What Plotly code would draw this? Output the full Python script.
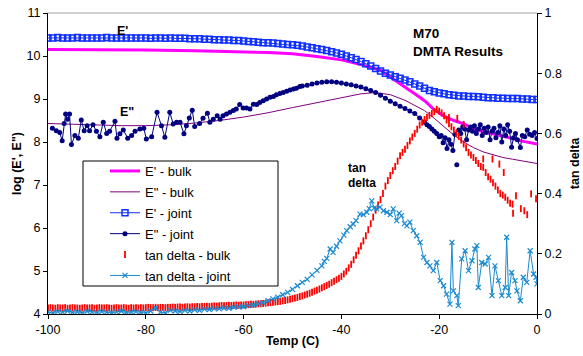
import plotly.graph_objects as go

# ---------------- data ----------------
# E' - bulk (log modulus)
ebulk_T = [-100, -90, -80, -70, -60, -55, -50, -45, -40, -36, -32, -30, -28, -26, -25, -23, -21, -19, -17,
           -15, -13, -11, -9, -7, -5, -3, 0]
ebulk_v = [10.15, 10.15, 10.14, 10.12, 10.10, 10.08, 10.05, 9.99, 9.91, 9.80, 9.67, 9.52, 9.35, 9.20, 9.12,
           8.96, 8.75, 8.60, 8.50, 8.42, 8.31, 8.24, 8.19, 8.13, 8.07, 8.02, 7.95]

# E" - bulk
eddbulk_T = [-100, -95, -90, -85, -80, -75, -70, -65, -60, -55, -50, -45, -40, -36, -33, -30, -27, -25, -23,
             -21, -19, -17, -15, -13, -11, -9, -7, -5, -3, 0]
eddbulk_v = [8.43, 8.41, 8.39, 8.38, 8.38, 8.40, 8.44, 8.50, 8.58, 8.68, 8.80, 8.92, 9.04, 9.12, 9.15, 9.10,
             8.97, 8.84, 8.73, 8.55, 8.36, 8.16, 8.00, 7.87, 7.77, 7.70, 7.64, 7.60, 7.56, 7.50]

# E' - joint (1 degree steps from -100 to 0)
ejoint_T = list(range(-100, 1))
ejoint_v = [10.42, 10.42, 10.43, 10.42, 10.42, 10.42, 10.43, 10.42, 10.42, 10.42,
            10.42, 10.42, 10.43, 10.42, 10.42, 10.42, 10.42, 10.42, 10.42, 10.42,
            10.42, 10.41, 10.42, 10.42, 10.41, 10.42, 10.41, 10.41, 10.41, 10.40,
            10.40, 10.40, 10.39, 10.39, 10.38, 10.38, 10.37, 10.37, 10.36, 10.36,
            10.35, 10.34, 10.33, 10.32, 10.31, 10.31, 10.30, 10.29, 10.28, 10.27,
            10.26, 10.25, 10.23, 10.21, 10.19, 10.17, 10.15, 10.13, 10.10, 10.07,
            10.04, 10.00, 9.96, 9.92, 9.87, 9.82, 9.77, 9.71, 9.65, 9.60,
            9.56, 9.52, 9.48, 9.44, 9.40, 9.35, 9.30, 9.25, 9.20, 9.17,
            9.14, 9.12, 9.10, 9.09, 9.07, 9.07, 9.06, 9.06, 9.05, 9.04,
            9.03, 9.03, 9.02, 9.02, 9.01, 9.01, 9.01, 9.00, 9.00, 8.99,
            8.99]

# E" - joint
eddjoint_T = [-99.1, -98.3, -97.6, -97.1, -96.7, -96.4, -96.0, -95.6, -95.2, -94.5,
              -93.8, -93.2, -92.6, -92.0, -91.5, -90.8, -90.1, -89.4, -88.7, -88.0,
              -87.4, -86.3, -85.9, -85.3, -84.6, -83.7, -82.9, -82.2, -81.2, -80.4,
              -79.9, -78.8, -77.7, -76.8, -76.1, -75.1, -74.4, -73.7, -73.0, -72.2,
              -71.7, -71.1, -70.5, -70.0, -69.0, -68.3, -67.4, -66.9, -66.2, -65.4,
              -64.8, -64.2, -63.5, -62.8, -62.1, -61.5, -60.8, -60.1, -59.4, -58.7,
              -58.0, -57.3, -56.7, -56.0, -55.3, -54.6, -53.9, -53.3, -52.6, -51.9,
              -51.2, -50.5, -49.8, -49.2, -48.5,
              -48, -47, -46, -45, -44, -43, -42, -41, -40, -39, -38, -37, -36, -35, -34, -33, -32, -31, -30,
              -29, -28, -27, -26, -25, -24, -23,
              -22.5, -22.0, -21.5, -21.0, -20.5, -20.0, -19.6, -19.2, -18.8, -18.4, -18.0, -17.6, -17.2,
              -16.8, -16.6, -16.4, -16.2, -16.0, -15.6, -15.2, -14.8, -14.4, -14.0, -13.6, -13.2, -12.8,
              -12.4, -12.0, -11.6, -11.2, -10.8, -10.4, -10.0, -9.6, -9.2, -8.8, -8.4, -8.0, -7.6, -7.2,
              -6.8, -6.4, -6.0, -5.6, -5.2, -4.8, -4.4, -4.0, -3.4, -3.0, -2.5, -2.0, -1.5, -1.0, -0.5, 0.0]
eddjoint_v = [8.32, 8.26, 8.22, 8.03, 8.43, 8.65, 8.53, 8.65, 7.94, 8.15,
              8.09, 8.51, 8.26, 8.38, 8.26, 8.40, 8.25, 8.12, 8.46, 8.20,
              8.25, 8.48, 8.09, 8.19, 8.28, 8.09, 8.15, 8.25, 8.30, 8.32,
              8.07, 8.12, 8.69, 8.38, 8.11, 8.69, 8.42, 8.46, 8.46, 8.19,
              8.38, 8.56, 8.74, 8.36, 8.43, 8.55, 8.67, 8.46, 8.53, 8.61,
              8.53, 8.61, 8.65, 8.69, 8.73, 8.77, 8.87, 8.79, 8.79, 8.77,
              8.88, 8.87, 8.92, 8.96, 9.00, 9.04, 9.06, 9.10, 9.13, 9.15,
              9.18, 9.21, 9.23, 9.25, 9.29,
              9.30, 9.32, 9.35, 9.37, 9.39, 9.40, 9.40, 9.39, 9.37, 9.35, 9.33, 9.30, 9.28, 9.24, 9.20, 9.15,
              9.09, 9.02, 8.95, 8.89, 8.83, 8.78, 8.72, 8.66, 8.56, 8.46,
              8.40, 8.36, 8.30, 8.25, 8.20, 8.12, 8.15, 7.98, 8.10, 7.85, 8.05, 7.95, 7.80,
              8.18, None, 7.47, None, 8.28, 8.20, 8.35, 8.30, 8.05, 8.28, 8.35, 8.25, 8.38,
              8.20, 8.30, 8.40, 8.15, 8.32, 8.22, 8.35, 8.05, 8.25, 8.32, 8.10, 8.22, 8.38, 8.00,
              8.30, 8.15, 8.40, 8.25, 7.88, 8.10, 8.20, 8.05, 7.87, 8.15, 8.12, 8.28, 8.18, 8.15, 8.22, 8.08]

# tan delta - bulk (0.5 degree steps from -100 to -5.5, plus scattered points)
tanbulk_T = [-100 + 0.5 * i for i in range(190)]
tanbulk_v = [.020, .021, .020, .019, .021, .020, .020, .021, .019, .020,
             .021, .020, .020, .019, .020, .021, .020, .020, .021, .019,
             .020, .021, .020, .020, .021, .020, .019, .020, .021, .020,
             .020, .021, .020, .019, .021, .020, .021, .020, .021, .020,
             .021, .022, .021, .021, .022, .021, .022, .022, .021, .022,
             .022, .023, .022, .023, .023, .022, .023, .024, .023, .024,
             .024, .025, .024, .025, .025, .026, .025, .026, .027, .026,
             .027, .028, .027, .028, .029, .028, .029, .030, .029, .030,
             .030, .031, .031, .032, .032, .033, .034, .034, .035, .036,
             .037, .038, .039, .040, .041, .042, .044, .045, .047, .049,
             .051, .053, .055, .058, .060, .063, .066, .069, .072, .076,
             .079, .083, .087, .091, .095, .099, .104, .109, .114, .119,
             .125, .133, .142, .153, .165, .180, .195, .210, .226, .243,
             .260, .280, .300, .322, .345, .362, .380, .400, .425, .443,
             .460, .476, .490, .508, .526, .537, .547, .560, .575, .588,
             .600, .614, .628, .637, .646, .653, .660, .666, .672, .680,
             .674, .668, .659, .645, .632, .622, .611, .600, .590, .578,
             .565, .552, .537, .528, .520, .510, .500, .490, .487, .470,
             .456, .448, .436, .425, .412, .400, .395, .388, .378, .368]
tanbulk_extra_T = [-18.0, -16.3, -15.0, -11.0, -9.1, -7.7, -6.8, -5.0, -4.9, -4.3, -3.3, -2.6, -2.0, -1.2, -0.2]
tanbulk_extra_v = [.653, .650, .630, .515, .515, .498, .470, .365, .335, .393, .350, .343, .330, .399, .383]

# tan delta - joint
tanjoint_T = [-100, -99, -98, -97, -96, -95, -94, -93, -92, -91, -90, -89, -88, -87, -86, -85, -84, -83, -82,
              -81, -80, -79, -78, -77, -76, -75, -74, -73, -72, -71, -70, -69, -68, -67, -66, -65, -64, -63,
              -62, -61, -60, -59, -58, -57, -56, -55, -54, -53, -52, -51, -50, -49, -48, -47, -46, -45, -44,
              -43.5, -43, -42.3, -41.7, -41, -40.3, -39.5, -38.9, -38.2, -37.6, -37, -36.2, -35.5, -34.8,
              -34.3, -33.8, -33.3, -32.8, -32.1, -31.4, -30.7, -30, -29.4, -28.7, -28.2, -27.7, -27.1,
              -26.6, -26, -25.3, -24.6, -23.9, -23.2, -22.5, -21.9, -21.2, -20.5, -19.8, -19.1, -18.5,
              -17.8, -17.4, -17.1, -16.4, -16.1, -15.4, -14.7, -14, -13.3, -12.7, -12.3, -12, -11.3, -10.6,
              -9.9, -9.2, -8.6, -7.9, -7.2, -6.5, -6.2, -5.8, -5.2, -4.5, -4.1, -3.4, -2.8, -2.1, -1.4,
              -0.7, -0.2, 0]
tanjoint_v = [.006, .004, .008, .006, .010, .005, .007, .004, .009, .006, .005, .008, .006, .004, .007, .009,
              .005, .006, .008, .005, .004, .010, .020, .006, .004, .012, .010, .008, .012, .010, .014, .012,
              .016, .015, .018, .017, .020, .019, .022, .024, .024, .028, .030, .034, .038, .044, .050, .056,
              .064, .072, .082, .094, .105, .115, .130, .145, .160,
              .175, .185, .216, .205, .225, .243, .262, .277, .290, .299, .310, .332, .330, .338,
              .350, .376, .352, .349, .355, .343, .338, .330, .349, .310, .335, .327, .300,
              .293, .305, .277, .260, .238, .188, .171, .160, .144, .171, .111, .094, .066,
              .033, .238, .077, .061, .028, .183, .210, .144, .177, .216, .227, .088, .171, .166,
              .188, .061, .160, .111, .061, .088, .255, .061, .138, .111, .077, .044, .122, .105, .210,
              .133, .122, .100]

x_ticks = [-100, -80, -60, -40, -20, 0]
x_ticklabels = ["-100", "-80", "-60", "-40", "-20", "0"]
y_ticks = [4, 5, 6, 7, 8, 9, 10, 11]
y2_ticks = [0, 0.2, 0.4, 0.6, 0.8, 1]
y2_ticklabels = ["0", "0.2", "0.4", "0.6", "0.8", "1"]

# ---------------- figure ----------------
PL, PR, PT, PB = 48, 537, 13, 314   # plot-area pixel box
W, H = 583, 356


def px_x(p):
    return (p - PL) / (PR - PL)


def px_y(p):
    return (PB - p) / (PB - PT)


fig = go.Figure()
fig.add_trace(go.Scatter(x=ebulk_T, y=ebulk_v, mode="lines", name="E' - bulk", legendgroup="a",
                         line=dict(color="#ff00ff", width=3)))
fig.add_trace(go.Scatter(x=eddbulk_T, y=eddbulk_v, mode="lines", name='E" - bulk', legendgroup="b",
                         line=dict(color="#800080", width=1)))
fig.add_trace(go.Scatter(x=ejoint_T, y=ejoint_v, mode="lines+markers", name="E' - joint", legendgroup="c",
                         line=dict(color="#1030ff", width=1),
                         marker=dict(symbol="square-open", size=6, color="#1030ff", line=dict(width=1.5))))
fig.add_trace(go.Scatter(x=eddjoint_T, y=eddjoint_v, mode="lines+markers", name='E" - joint', legendgroup="d",
                         line=dict(color="#000080", width=1),
                         marker=dict(symbol="circle", size=5, color="#000080")))
fig.add_trace(go.Scatter(x=tanbulk_T + tanbulk_extra_T, y=tanbulk_v + tanbulk_extra_v, mode="markers",
                         name="tan delta - bulk", legendgroup="e", yaxis="y2",
                         marker=dict(symbol="line-ns", size=5, color="#ff0000",
                                     line=dict(color="#ff0000", width=1.8))))
fig.add_trace(go.Scatter(x=tanjoint_T, y=tanjoint_v, mode="lines+markers", name="tan delta - joint",
                         legendgroup="f", yaxis="y2",
                         line=dict(color="#1a8ad0", width=1),
                         marker=dict(symbol="x-thin", size=5, color="#1a8ad0",
                                     line=dict(color="#1a8ad0", width=1.2))))

axis_common = dict(showline=True, linecolor="black", linewidth=1, showgrid=False, zeroline=False,
                   ticks="outside", ticklen=4, tickcolor="black", tickfont=dict(size=12.5, color="black"))
inner_ticks = dict(showline=False, showgrid=False, zeroline=False, showticklabels=False,
                   ticks="inside", ticklen=4, tickcolor="black")

fig.update_layout(
    width=W, height=H,
    margin=dict(l=PL, r=W - PR, t=PT, b=H - PB, autoexpand=False),
    plot_bgcolor="white", paper_bgcolor="white",
    font=dict(family="Liberation Sans, Arial, sans-serif", size=12.5, color="black"),
    showlegend=True,
    hovermode=False,
    legend=dict(x=px_x(105), y=px_y(156), xanchor="left", yanchor="top",
                bgcolor="rgba(0,0,0,0)", borderwidth=0, font=dict(size=13), tracegroupgap=1),
    xaxis=dict(range=[-100, 0], tickvals=x_ticks, ticktext=x_ticklabels,
               title=dict(text="<b>Temp (C)</b>", font=dict(size=12.5), standoff=0), **axis_common),
    yaxis=dict(range=[4, 11], tickvals=y_ticks,
               title=dict(text="<b>log (E', E\")</b>", font=dict(size=12.5), standoff=2), **axis_common),
    yaxis2=dict(range=[0, 1], overlaying="y", side="right", tickvals=y2_ticks, ticktext=y2_ticklabels,
                title=dict(text="<b>tan delta</b>", font=dict(size=12.5), standoff=9), **axis_common),
    xaxis2=dict(range=[-100, 0], overlaying="x", anchor="y", side="bottom", tickvals=x_ticks, **inner_ticks),
    yaxis3=dict(range=[4, 11], overlaying="y", anchor="x", side="left", tickvals=y_ticks, **inner_ticks),
    yaxis4=dict(range=[0, 1], overlaying="y", anchor="x", side="right", tickvals=y2_ticks, **inner_ticks),
    shapes=[
        dict(type="rect", xref="paper", yref="paper", x0=px_x(83), x1=px_x(278), y0=px_y(286), y1=px_y(161),
             line=dict(color="black", width=1), fillcolor="white", layer="below"),
        dict(type="line", xref="paper", yref="paper", x0=0, x1=1, y0=1, y1=1,
             line=dict(color="#a0a0a0", width=1)),
    ],
    annotations=[
        dict(text="<b>E'</b>", x=px_x(122), y=px_y(31), xanchor="center", yanchor="middle",
             font=dict(size=12.5)),
        dict(text="<b>E\"</b>", x=px_x(127), y=px_y(112), xanchor="center", yanchor="middle",
             font=dict(size=12.5)),
        dict(text="<b>M70</b>", x=px_x(411), y=px_y(33), xanchor="left", yanchor="middle",
             font=dict(size=13.5)),
        dict(text="<b>DMTA Results</b>", x=px_x(411), y=px_y(51), xanchor="left", yanchor="middle",
             font=dict(size=13.5)),
        dict(text="<b>tan</b>", x=px_x(346), y=px_y(168), xanchor="left", yanchor="middle",
             font=dict(size=12)),
        dict(text="<b>delta</b>", x=px_x(346), y=px_y(183), xanchor="left", yanchor="middle",
             font=dict(size=12)),
    ],
)
for a in fig.layout.annotations:
    a.update(xref="paper", yref="paper", showarrow=False)

fig.write_html("out.html", config={"displayModeBar": False, "staticPlot": True},
               post_script="document.body.style.margin='0px';")
